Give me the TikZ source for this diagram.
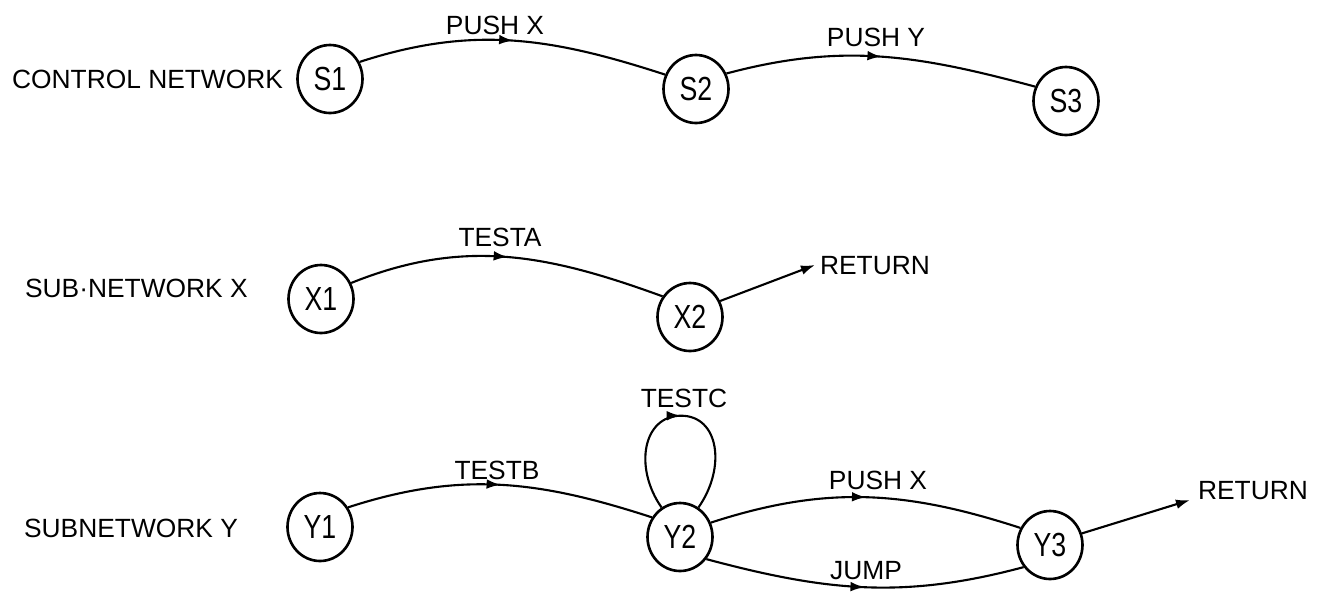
\documentclass[tikz,border=0pt]{standalone}
\usepackage{fontspec}
\setmainfont{Liberation Sans}
\usetikzlibrary{arrows.meta,decorations.markings,shapes.geometric,calc}

\newcommand{\hw}[1]{\scalebox{0.8}[1]{#1}}

\tikzset{
  state/.style={ellipse, draw, line width=1.5pt, minimum width=1.3cm,
    minimum height=1.36cm, inner sep=0pt, font=\fontsize{19}{21}\selectfont},
  lbl/.style={font=\fontsize{15}{17}\selectfont, inner sep=1pt},
  arc/.style={line width=1.2pt, postaction={decorate},
    decoration={markings, mark=at position 0.5 with {\arrow{Latex[length=8pt,width=5.5pt]}}}},
  exitarrow/.style={line width=1.2pt, -{Latex[length=8pt,width=5.5pt]}}
}

\begin{document}
\begin{tikzpicture}[x=0.02cm, y=-0.02cm]
\useasboundingbox (0,0) rectangle (1320,593);

% control network
\node[lbl, anchor=west] (cn) at (10,79) {CONTROL NETWORK};
\node[state] (s1) at (330,79) {\hw{S1}};
\node[state] (s2) at (696,89) {\hw{S2}};
\node[state] (s3) at (1066,101) {\hw{S3}};
\draw[arc] (s1.30) to[out=18,in=162] (s2.155);
\draw[arc] (s2.27) to[out=15,in=165] (s3.155);
\node[lbl] (pushx1) at (495,25) {PUSH X};
\node[lbl] (pushy) at (876,37) {PUSH Y};

% sub-network X
\node[lbl, anchor=west] (snx) at (23,288) {SUB·NETWORK X};
\node[state] (x1) at (321,299) {\hw{X1}};
\node[state] (x2) at (690,317) {\hw{X2}};
\draw[arc] (x1.28) to[out=22,in=160] (x2.143);
\node[lbl] (testa) at (500,237) {TESTA};
\coordinate (xret) at (815,265);
\draw[exitarrow] (x2.28) -- (xret);
\node[lbl, anchor=west] (retx) at (818,266) {RETURN};

% sub-network Y
\node[lbl, anchor=west] (sny) at (22,528) {SUBNETWORK Y};
\node[state] (y1) at (320,527) {\hw{Y1}};
\node[state] (y2) at (680,537) {\hw{Y2}};
\node[state] (y3) at (1050,545) {\hw{Y3}};
\draw[arc] (y1.35) to[out=18,in=162] (y2.145);
\node[lbl] (testb) at (497,470) {TESTB};
% self loop on Y2
\coordinate (ltop) at ($(y2.north)+(1,-86)$);
\draw[arc] (y2.122) .. controls +(-28,-40) and +(-38,0) .. (ltop)
  .. controls +(38,0) and +(28,-40) .. (y2.58);
\node[lbl] (testc) at (684,398) {TESTC};
\draw[arc] (y2.25) to[out=18,in=162] (y3.150);
\node[lbl] (pushx2) at (878,480) {PUSH X};
\draw[arc] (y2.-40) to[out=-15,in=-165] (y3.-140);
\node[lbl] (jump) at (866,571) {JUMP};
\coordinate (yret) at (1190,500);
\draw[exitarrow] (y3.20) -- (yret);
\node[lbl, anchor=west] (rety) at (1196,491) {RETURN};
\end{tikzpicture}
\end{document}
